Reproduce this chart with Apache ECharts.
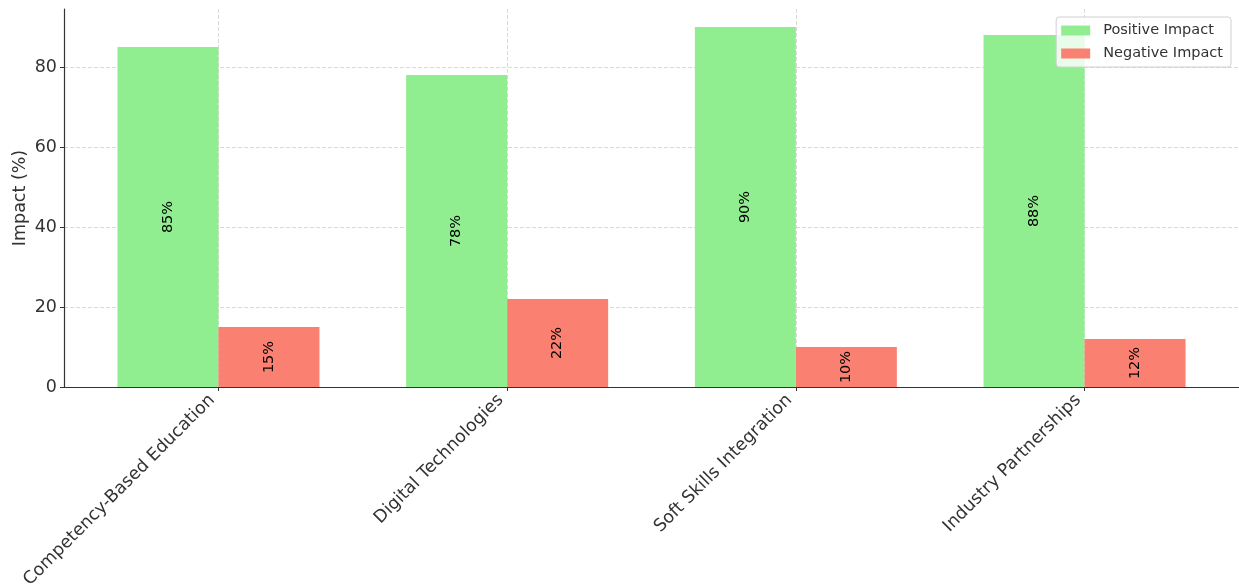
<!DOCTYPE html>
<html>
<head>
<meta charset="utf-8">
<script src="https://cdn.jsdelivr.net/npm/echarts@6/dist/echarts.min.js"></script>
<style>html,body{margin:0;padding:0;background:#fff;}#chart{width:1239px;height:588px;}</style>
</head>
<body>
<div id="chart"></div>
<script>
const categories = ['Competency-Based Education', 'Digital Technologies', 'Soft Skills Integration', 'Industry Partnerships'];
const positiveImpact = [85, 78, 90, 88];
const negativeImpact = [15, 22, 10, 12];
const yTicks = [0, 20, 40, 60, 80];

const catIdx = categories.map((c, i) => i);
const font = 'DejaVu Sans';
const chart = echarts.init(document.getElementById('chart'), null, {renderer: 'canvas'});
const labelOpt = {
  show: true, position: 'inside', rotate: 90, color: '#000', fontSize: 14.5, fontFamily: font,
  formatter: p => p.value[1] + '%'
};
chart.setOption({
  animation: false,
  textStyle: {fontFamily: font},
  grid: {left: 64, right: 0, top: 9, bottom: 201, containLabel: false, outerBoundsMode: 'none'},
  legend: {
    orient: 'vertical', right: 8, top: 17,
    data: ['Positive Impact', 'Negative Impact'],
    icon: 'rect', itemWidth: 29, itemHeight: 10, itemGap: 8,
    padding: [6, 8, 6, 5],
    borderColor: '#d0d0d0', borderWidth: 1, borderRadius: 3,
    backgroundColor: 'rgba(255,255,255,0.8)',
    textStyle: {fontSize: 14.5, color: '#333', fontFamily: font, padding: [0, 0, 0, 8]}
  },
  xAxis: {
    type: 'value', min: -0.535, max: 3.535,
    axisLine: {show: true, onZero: false, lineStyle: {color: '#333', width: 1.2}},
    axisTick: {show: true, length: 4, customValues: catIdx, lineStyle: {color: '#333'}},
    axisLabel: {customValues: catIdx, rotate: 45, fontSize: 17.5, color: '#333', fontFamily: font, margin: 4,
      padding: [0, 9, 0, 0],
      formatter: v => categories[Math.round(v)]},
    splitLine: {show: true, lineStyle: {color: '#cfcfcf', type: [4, 2], width: 0.8}}
  },
  yAxis: {
    type: 'value', min: 0, max: 94.5,
    name: 'Impact (%)', nameLocation: 'middle', nameGap: 35, nameMoveOverlap: false,
    nameTextStyle: {fontSize: 17.5, color: '#333', fontFamily: font},
    axisLine: {show: true, onZero: false, lineStyle: {color: '#333', width: 1.2}},
    axisTick: {show: true, length: 4, customValues: yTicks, lineStyle: {color: '#333'}},
    axisLabel: {customValues: yTicks, fontSize: 17.5, color: '#333', fontFamily: font, margin: 7},
    splitLine: {show: true, lineStyle: {color: '#cfcfcf', type: [4, 2], width: 0.8}}
  },
  series: [
    {name: 'Positive Impact', type: 'bar', barWidth: 101, barGap: '0%',
     itemStyle: {color: '#90EE90'}, label: labelOpt,
     data: positiveImpact.map((v, i) => [i, v])},
    {name: 'Negative Impact', type: 'bar', barWidth: 101, barGap: '0%',
     itemStyle: {color: '#FA8072'}, label: labelOpt,
     data: negativeImpact.map((v, i) => [i, v])}
  ]
});
</script>
</body>
</html>
